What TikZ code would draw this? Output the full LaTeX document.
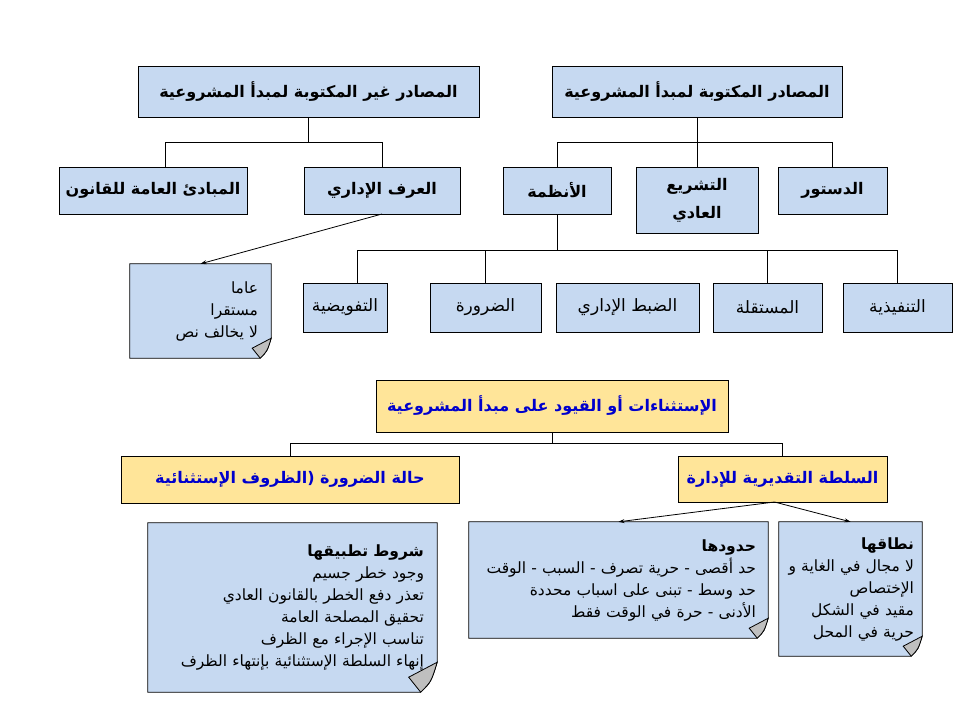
\documentclass[tikz,border=0pt]{standalone}
\usepackage{fontspec}
\newfontfamily\arabicfont[Script=Arabic]{DejaVu Sans}
\TeXXeTstate=1
\usetikzlibrary{arrows.meta,backgrounds}
\newcommand{\rl}[1]{\beginR#1\endR}
\definecolor{boxblue}{RGB}{198,217,241}
\definecolor{boxyellow}{RGB}{255,229,153}
\definecolor{titleblue}{RGB}{0,0,204}
\definecolor{flapgray}{RGB}{191,191,191}
\begin{document}
\begin{tikzpicture}[x=1pt,y=-1pt,
  box/.style={rectangle,draw=black,line width=0.8pt,fill=boxblue,inner sep=0pt,outer sep=0pt,font=\arabicfont\bfseries\fontsize{16}{19}\selectfont},
  plainbox/.style={box,font=\arabicfont\fontsize{17}{20}\selectfont},
  goldbox/.style={box,fill=boxyellow,text=titleblue,font=\arabicfont\bfseries\fontsize{16}{19}\selectfont},
  note/.style={rectangle,inner xsep=13pt,inner ysep=0pt,align=right,font=\arabicfont\fontsize{15.5}{22}\selectfont},
  link/.style={draw=black,line width=0.8pt},
  arrow/.style={link,-{Stealth[length=6pt,width=4pt]}}]
\useasboundingbox (0,0) rectangle (960,720);
% sources
\node[box,minimum width=341pt,minimum height=51pt] (unwritten) at (308.5,91.5) {\rl{المصادر غير المكتوبة لمبدأ المشروعية}};
\node[box,minimum width=290pt,minimum height=51pt] (written) at (697,91.5) {\rl{المصادر المكتوبة لمبدأ المشروعية}};
\node[box,minimum width=188pt,minimum height=47pt] (principles) at (153,190.5) {\rl{المبادئ العامة للقانون}};
\node[box,minimum width=156pt,minimum height=47pt] (custom) at (382,190.5) {\rl{العرف الإداري}};
\node[box,minimum width=108pt,minimum height=47pt] (regulations) at (557,190.5) {\rl{الأنظمة}};
\node[box,minimum width=122pt,minimum height=66pt,align=center] (legislation) at (697,200) {\rl{التشريع}\\[9pt]\rl{العادي}};
\node[box,minimum width=109pt,minimum height=47pt] (constitution) at (832.5,190.5) {\rl{الدستور}};
\foreach \name/\x/\w/\txt in {delegated/345/84/التفويضية,necessity/485.5/111/الضرورة,police/627.5/143/الضبط الإداري,independent/767.5/109/المستقلة,executive/897.5/109/التنفيذية}
  \node[plainbox,minimum width=\w pt,minimum height=49pt] (\name) at (\x,307.5) {\rl{\txt}};
\draw[link] (unwritten.south) -- ++(0,25) -| ([xshift=12pt]principles.north);
\draw[link] (unwritten.south) -- ++(0,25) -| (custom.north);
\draw[link] (written.south) -- ++(0,25) -| (regulations.north);
\draw[link] (written.south) -- ++(0,25) -| (constitution.north);
\draw[link] (written.south) -- (legislation.north);
\draw[link] (regulations.south) -- ++(0,36) -| ([xshift=12pt]delegated.north);
\foreach \name in {necessity,independent,executive}
  \draw[link] (regulations.south) -- ++(0,36) -| (\name.north);
% notes
\node[note,text width=115pt,minimum height=94pt] (customnote) at (200.5,311) {\rl{عاما}\\\rl{مستقرا}\\\rl{لا يخالف نص}};
\draw[arrow] (custom.south) -- (customnote.north);
% exceptions
\node[goldbox,minimum width=352pt,minimum height=52pt] (limits) at (552,406) {\rl{الإستثناءات أو القيود على مبدأ المشروعية}};
\node[goldbox,minimum width=338pt,minimum height=47pt] (emergency) at (290,479.5) {\rl{حالة الضرورة (الظروف الإستثنائية}};
\node[goldbox,minimum width=209pt,minimum height=46pt] (discretion) at (782.5,479) {\rl{السلطة التقديرية للإدارة}};
\draw[link] (limits.south) -- ++(0,11) -| (emergency.north);
\draw[link] (limits.south) -- ++(0,11) -| (discretion.north);
\node[note,text width=263pt,minimum height=169pt] (conditions) at (292.5,607.5) {\textbf{\rl{شروط تطبيقها}}\\\rl{وجود خطر جسيم}\\\rl{تعذر دفع الخطر بالقانون العادي}\\\rl{تحقيق المصلحة العامة}\\\rl{تناسب الإجراء مع  الظرف}\\\rl{إنهاء السلطة الإستثنائية بإنتهاء الظرف}};
\node[note,text width=275pt,inner xsep=12pt,minimum height=116pt] (bounds) at (618.5,580) {\textbf{\rl{حدودها}}\\\rl{حد أقصى - حرية تصرف - السبب - الوقت}\\\rl{حد وسط - تبنى على اسباب محددة}\\\rl{الأدنى - حرة في الوقت فقط}};
\node[note,text width=127pt,inner xsep=8pt,minimum height=134pt] (range) at (850.5,589) {\textbf{\rl{نطاقها}}\\\rl{لا مجال في الغاية و}\\\rl{الإختصاص}\hspace*{18pt}\\\rl{مقيد في الشكل}\\\rl{حرية في المحل}};
\draw[arrow] ([xshift=-8pt]discretion.south) -- (bounds.north);
\draw[arrow] ([xshift=-8pt]discretion.south) -- (range.north);
\begin{scope}[on background layer]
\foreach \n/\f in {customnote/20,conditions/30,bounds/20,range/20}{
  \filldraw[link,fill=boxblue] (\n.north west) -- (\n.north east) -- ([yshift=\f pt]\n.south east) .. controls ([xshift=-0.2*\f pt,yshift=0.35*\f pt]\n.south east) .. ([xshift=-0.55*\f pt]\n.south east) -- (\n.south west) -- cycle;
  \filldraw[link,fill=flapgray] ([yshift=\f pt]\n.south east) .. controls ([xshift=-0.2*\f pt,yshift=0.35*\f pt]\n.south east) .. ([xshift=-0.55*\f pt]\n.south east) -- ([xshift=-0.95*\f pt,yshift=0.5*\f pt]\n.south east) -- cycle;
}
\end{scope}
\end{tikzpicture}
\end{document}
